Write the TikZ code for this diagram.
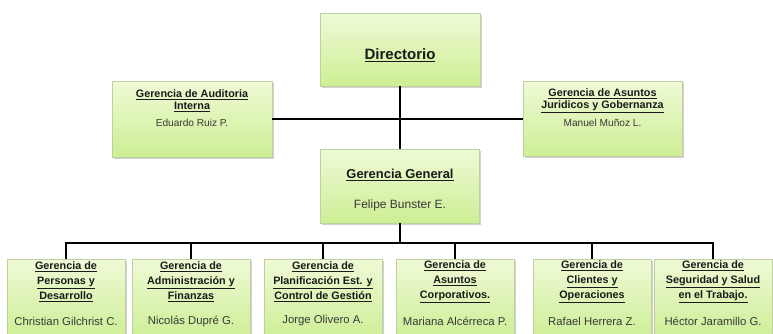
\documentclass[tikz,border=0pt]{standalone}
\usepackage{fontspec}
\setmainfont{Liberation Sans}
\usetikzlibrary{shadows}
\definecolor{boxtop}{HTML}{EFFAD6}
\definecolor{boxbot}{HTML}{CDEE94}
\definecolor{boxline}{HTML}{BFCFA2}
\definecolor{titletxt}{HTML}{1A1A1A}
\definecolor{nametxt}{HTML}{383838}
\newcommand{\subr}[1]{\underline{#1}}

\begin{document}
\begin{tikzpicture}[x=0.75pt,y=0.75pt,yscale=-1,xscale=1,
    caja/.style={draw=boxline, line width=0.6pt, top color=boxtop, bottom color=boxbot, inner sep=0pt,
      drop shadow={shadow xshift=1.2pt, shadow yshift=-1.2pt, opacity=0.3, fill=black!60}},
    cajabaja/.style={caja, minimum width=88.5pt, minimum height=60.75pt},
    linea/.style={line width=2.1pt, black},
    titulo/.style={align=center, text=titletxt, font=\bfseries\fontsize{8.1}{8.8}\selectfont, inner sep=0.75pt},
    titulobajo/.style={titulo, font=\bfseries\fontsize{8.1}{11.2}\selectfont},
    nombre/.style={text=nametxt, font=\fontsize{7.6}{9}\selectfont, inner sep=0.75pt},
    nombrebajo/.style={nombre, font=\fontsize{8.5}{9}\selectfont}]
    \useasboundingbox (0,0) rectangle (773,333); %diagram area of 773 x 333

    %Shape: Boxes
    \node [caja, minimum width=120pt, minimum height=54.75pt] (dir) at (400,49.5) {};
    \node [caja, minimum width=120pt, minimum height=57pt] (aud) at (192,119) {};
    \node [caja, minimum width=119.25pt, minimum height=56.25pt] (jur) at (602.5,119) {};
    \node [caja, minimum width=119.25pt, minimum height=55.5pt] (gg) at (400,186) {};
    \node [cajabaja] (b1) at (66,299.5) {};
    \node [cajabaja] (b2) at (191,299.5) {};
    \node [cajabaja] (b3) at (323,299.5) {};
    \node [cajabaja] (b4) at (455,299.5) {};
    \node [cajabaja] (b5) at (592,299.5) {};
    \node [cajabaja] (b6) at (713,299.5) {};

    %Straight Lines
    \draw [linea] (dir.south) -- (dir.south |- gg.north);
    \draw [linea] (aud.east) -- (aud.east -| jur.west);
    \coordinate (bus) at (400,243);
    \draw [linea] (gg.south) -- (gg.south |- bus);
    \foreach \b in {b1,b2,b3,b4,b5,b6}
      \draw [linea] (gg.south |- bus) -| (\b.north);

    % Text Node
    \node [titulo, font=\bfseries\fontsize{11.25}{12}\selectfont] (dirt) at (400,55) {\subr{Directorio}};
    % Text Node
    \node [titulo] (audt) at (192,101) {\subr{Gerencia de Auditoria}\\\subr{Interna}};
    \node [nombre] (audn) at (192,123) {Eduardo Ruiz P.};
    % Text Node
    \node [titulo] (jurt) at (602.5,101) {\subr{Gerencia de Asuntos}\\\subr{Juridicos y Gobernanza}};
    \node [nombre] (jurn) at (602.5,123) {Manuel Muñoz L.};
    % Text Node
    \node [titulo, font=\bfseries\fontsize{9.7}{11}\selectfont] (ggt) at (400,175) {\subr{Gerencia General}};
    \node [nombre, font=\fontsize{9}{10}\selectfont] (ggn) at (400,205) {Felipe Bunster E.};

    % Text Node
    \node [titulobajo] (b1t) at (66,282) {\subr{Gerencia de}\\\subr{Personas y}\\\subr{Desarrollo}};
    \node [nombrebajo] (b1n) at (66,321) {Christian Gilchrist C.};
    % Text Node
    \node [titulobajo] (b2t) at (191,282) {\subr{Gerencia de}\\\subr{Administración y}\\\subr{Finanzas}};
    \node [nombrebajo] (b2n) at (191,321) {Nicolás Dupré G.};
    % Text Node
    \node [titulobajo] (b3t) at (323,282) {\subr{Gerencia de}\\\subr{Planificación Est. y}\\\subr{Control de Gestión}};
    \node [nombrebajo] (b3n) at (323,321) {Jorge Olivero A.};
    % Text Node
    \node [titulobajo] (b4t) at (455,282) {\subr{Gerencia de}\\\subr{Asuntos}\\\subr{Corporativos.}};
    \node [nombrebajo] (b4n) at (455,321) {Mariana Alcérreca P.};
    % Text Node
    \node [titulobajo] (b5t) at (592,282) {\subr{Gerencia de}\\\subr{Clientes y}\\\subr{Operaciones}};
    \node [nombrebajo] (b5n) at (592,321) {Rafael Herrera Z.};
    % Text Node
    \node [titulobajo] (b6t) at (713,282) {\subr{Gerencia de}\\\subr{Seguridad y Salud}\\\subr{en el Trabajo.}};
    \node [nombrebajo] (b6n) at (713,321) {Héctor Jaramillo G.};

\end{tikzpicture}
\end{document}
